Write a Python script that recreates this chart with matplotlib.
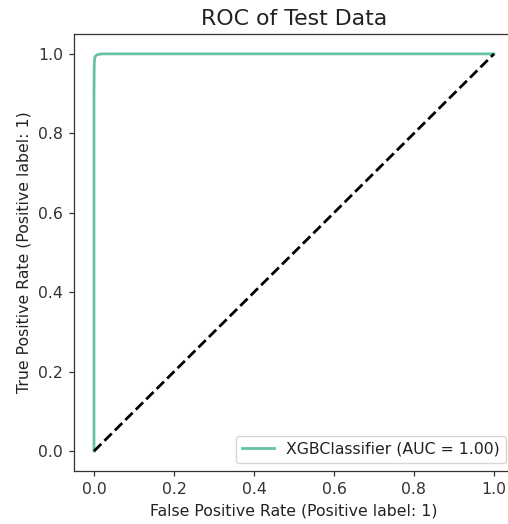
import matplotlib

matplotlib.use("Agg")

import matplotlib.pyplot as plt

# ROC points for the classifier (false positive rate, true positive rate)
fpr = [0.0, 0.0, 0.0005, 0.001, 0.002, 0.004, 0.008, 0.02, 0.1, 0.5, 1.0]
tpr = [0.0, 0.9, 0.965, 0.982, 0.99, 0.995, 0.998, 1.0, 1.0, 1.0, 1.0]
auc_value = 1.00
model_name = "XGBClassifier"

scale = 1.13
plt.rcParams.update({
    "font.size": 10 * scale,
    "axes.linewidth": 0.8 * scale,
    "xtick.major.size": 3.5 * scale,
    "ytick.major.size": 3.5 * scale,
    "xtick.major.width": 0.8 * scale,
    "ytick.major.width": 0.8 * scale,
    "xtick.major.pad": 3.5 * scale,
    "ytick.major.pad": 3.5 * scale,
    "axes.labelpad": 4 * scale,
    "axes.titlepad": 6 * scale,
    "text.color": "#222222",
    "axes.labelcolor": "#222222",
    "xtick.color": "#333333",
    "ytick.color": "#333333",
    "axes.edgecolor": "#333333",
})

fig = plt.figure(figsize=(5.08, 5.24), dpi=100)
ax = fig.add_axes([74 / 508, 53 / 524, 440 / 508, 437 / 524])

ax.plot(fpr, tpr, color="#66c2a5", lw=2,
        label=f"{model_name} (AUC = {auc_value:.2f})")
ax.plot([0, 1], [0, 1], "k--", lw=2)

ax.set_xlim(-0.05, 1.05)
ax.set_ylim(-0.05, 1.05)
ax.set_xlabel("False Positive Rate (Positive label: 1)")
ax.set_ylabel("True Positive Rate (Positive label: 1)")
ax.set_title("ROC of Test Data", fontsize=15.8)
ax.legend(loc="lower right")

plt.savefig("out.png", dpi=100)
plt.close()
